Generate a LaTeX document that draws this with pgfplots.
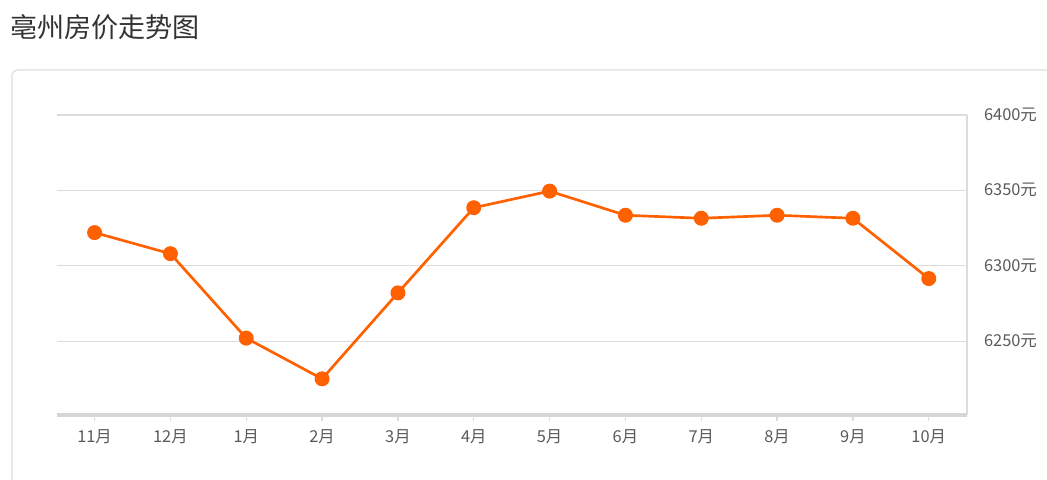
\documentclass[border=0pt]{standalone}
\usepackage{pgfplots}
\pgfplotsset{compat=1.18}
\usepackage{fontspec}
\setmainfont{Noto Sans CJK SC}
\definecolor{lineorange}{RGB}{255,96,0}
\definecolor{gridgray}{RGB}{220,220,220}
\definecolor{axisgray}{RGB}{214,214,214}
\definecolor{framegray}{RGB}{221,221,221}
\definecolor{titlegray}{RGB}{51,51,51}
\definecolor{labelgray}{RGB}{90,90,90}
\begin{document}
\begin{tikzpicture}
\path[use as bounding box] (0pt,0pt) rectangle (785.25pt,359.25pt);
\begin{scope}
\clip (0pt,0pt) rectangle (785.25pt,359.25pt);
\draw[framegray, line width=0.9pt, rounded corners=4pt] (9pt,-20pt) rectangle (800pt,306.75pt);
\end{scope}
\node[anchor=west, text=titlegray, font=\fontsize{20.3pt}{23pt}\selectfont, inner sep=0pt] at (7.5pt,338.5pt) {亳州房价走势图};
\begin{axis}[
  at={(42.5pt,48pt)}, anchor=south west,
  width=682.5pt, height=225pt, scale only axis,
  xmin=-0.5, xmax=11.5, ymin=6201, ymax=6400,
  axis x line=bottom, axis y line=right,
  axis line style={-},
  x axis line style={axisgray, line width=2.3pt},
  y axis line style={gridgray, line width=1.3pt},
  xtick={0,...,11},
  xticklabels={11月,12月,1月,2月,3月,4月,5月,6月,7月,8月,9月,10月},
  ytick={6250,6300,6350,6400},
  yticklabels={6250元,6300元,6350元,6400元},
  ymajorgrids, grid style={gridgray, line width=0.9pt},
  tick align=outside,
  major tick length=4.5pt,
  xtick style={gridgray, line width=0.9pt},
  ytick style={draw=none},
  ticklabel style={font=\fontsize{12.3pt}{14pt}\selectfont, text=labelgray},
  yticklabel style={anchor=west, xshift=5pt},
  xticklabel style={yshift=-3pt},
  clip=false,
]
\addplot[lineorange, line width=2pt, mark=*, mark size=4.6pt, mark options={fill=lineorange, draw=none}]
coordinates {
(0,6322) (1,6308) (2,6252) (3,6225) (4,6282) (5,6338.5) (6,6349.5) (7,6333.5) (8,6331.5) (9,6333.5) (10,6331.5) (11,6291.5)
};
\end{axis}
\end{tikzpicture}
\end{document}
